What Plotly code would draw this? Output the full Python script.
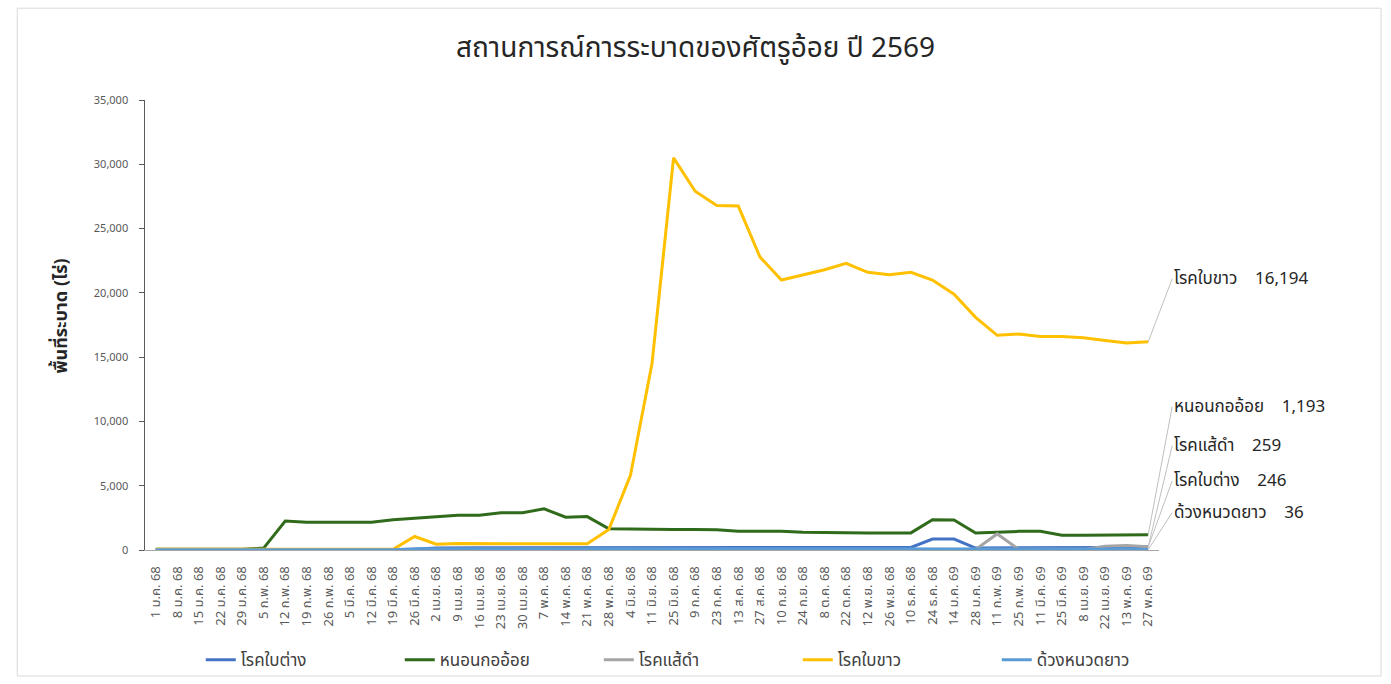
import plotly.graph_objects as go

dates = ["1 ม.ค. 68","8 ม.ค. 68","15 ม.ค. 68","22 ม.ค. 68","29 ม.ค. 68","5 ก.พ. 68","12 ก.พ. 68",
         "19 ก.พ. 68","26 ก.พ. 68","5 มี.ค. 68","12 มี.ค. 68","19 มี.ค. 68","26 มี.ค. 68","2 เม.ย. 68",
         "9 เม.ย. 68","16 เม.ย. 68","23 เม.ย. 68","30 เม.ย. 68","7 พ.ค. 68","14 พ.ค. 68","21 พ.ค. 68",
         "28 พ.ค. 68","4 มิ.ย. 68","11 มิ.ย. 68","25 มิ.ย. 68","9 ก.ค. 68","23 ก.ค. 68","13 ส.ค. 68",
         "27 ส.ค. 68","10 ก.ย. 68","24 ก.ย. 68","8 ต.ค. 68","22 ต.ค. 68","12 พ.ย. 68","26 พ.ย. 68",
         "10 ธ.ค. 68","24 ธ.ค. 68","14 ม.ค. 69","28 ม.ค. 69","11 ก.พ. 69","25 ก.พ. 69","11 มี.ค. 69",
         "25 มี.ค. 69","8 เม.ย. 69","22 เม.ย. 69","13 พ.ค. 69","27 พ.ค. 69"]

bai_tang = [30,30,30,30,30,30,30,30,30,30,30,30,60,150,180,180,180,180,180,180,180,
            180,180,180,200,200,200,200,200,200,200,200,200,200,200,200,850,850,150,150,150,150,
            150,150,200,220,246]
non_kor = [50,50,50,50,50,150,2250,2150,2150,2150,2150,2350,2450,2600,2700,2700,2900,2900,3200,2550,2600,
           1650,1620,1600,1600,1600,1580,1450,1450,1450,1380,1380,1380,1330,1320,1330,2350,2330,1320,1400,
           1450,1450,1150,1150,1150,1150,1193]
sae_dam = [30,30,30,30,30,30,30,30,30,30,30,30,30,30,30,30,30,30,30,30,30,
           30,30,30,30,30,30,30,30,30,30,30,30,30,30,30,30,30,50,1250,50,50,
           50,50,300,350,259]
bai_khao = [50,50,50,50,50,50,50,50,50,50,50,50,1050,450,500,500,500,500,500,500,480,
            1600,5800,14500,30500,27900,26800,26750,22800,21000,21400,21800,22300,21600,21400,21600,21000,19900,18100,16700,
            16800,16600,16600,16500,16300,16100,16194]
duang = [20,20,20,20,20,20,20,20,20,20,20,20,100,100,100,100,100,100,100,100,100,
         100,100,100,100,100,100,100,100,100,100,100,100,100,100,100,100,100,100,100,100,100,
         100,100,100,80,36]

series = [
    ("โรคใบต่าง", bai_tang, "#4472C4"),
    ("หนอนกออ้อย", non_kor, "#2F6B1B"),
    ("โรคแส้ดำ", sae_dam, "#A5A5A5"),
    ("โรคใบขาว", bai_khao, "#FFC000"),
    ("ด้วงหนวดยาว", duang, "#5B9BD5"),
]

FONT = "Tahoma, 'Noto Sans Thai', 'Noto Sans Thai UI', Loma, Garuda, 'DejaVu Sans', sans-serif"

fig = go.Figure()
for name, vals, col in series:
    fig.add_trace(go.Scatter(x=dates, y=vals, mode="lines", name=name,
                             line=dict(color=col, width=3)))

# right-side labels with leader lines
label_specs = [
    ("โรคใบขาว", bai_khao, -63),
    ("หนอนกออ้อย", non_kor, -128),
    ("โรคแส้ดำ", sae_dam, -101),
    ("โรคใบต่าง", bai_tang, -66),
    ("ด้วงหนวดยาว", duang, -37),
]
annotations = []
for name, vals, ay in label_specs:
    annotations.append(dict(
        x=dates[-1], y=vals[-1], xref="x", yref="y",
        text=f"{name}\u00a0\u00a0\u00a0\u00a0{vals[-1]:,}",
        showarrow=True, arrowhead=0, arrowwidth=1, arrowcolor="#BFBFBF",
        ax=24, ay=ay, xanchor="left", yanchor="middle",
        font=dict(size=17, color="#262626", family=FONT)))

annotations.append(dict(
    x=-0.0986, y=0.52, xref="paper", yref="paper", text="<b>พื้นที่ระบาด (ไร่)</b>",
    textangle=-90, showarrow=False, font=dict(size=18, color="#262626", family=FONT)))

fig.update_layout(
    width=1391, height=684,
    paper_bgcolor="white", plot_bgcolor="white",
    margin=dict(l=145, r=232, t=100, b=134, autoexpand=False),
    font=dict(family=FONT, color="#595959"),
    title=dict(text="สถานการณ์การระบาดของศัตรูอ้อย ปี 2569", x=0.5, xanchor="center",
               y=1 - 47 / 684, yanchor="middle",
               font=dict(size=28, color="#262626", family=FONT)),
    showlegend=True,
    legend=dict(orientation="h", x=0.055, xanchor="left", y=-0.245, yanchor="middle",
                entrywidth=154, entrywidthmode="pixels", bgcolor="rgba(0,0,0,0)",
                font=dict(size=17, color="#404040", family=FONT)),
    annotations=annotations,
    shapes=[dict(type="rect", xref="paper", yref="paper", x0=-0.126, x1=1.219, y0=-0.28, y1=1.204,
                 line=dict(color="#D9D9D9", width=1), fillcolor="rgba(0,0,0,0)", layer="below")],
)
fig.update_xaxes(type="category", range=[-0.5, len(dates) - 0.5], tickangle=-90, automargin=False,
                 tickfont=dict(size=13, color="#595959"), showline=True, linecolor="#A6A6A6",
                 showgrid=False, ticks="outside", ticklen=10, tickcolor="rgba(0,0,0,0)", zeroline=False)
fig.update_yaxes(range=[0, 35000], dtick=5000, tickformat=",", ticksuffix="\u00a0\u00a0\u00a0",
                 showgrid=False, automargin=False,
                 showline=True, linecolor="#595959", ticks="outside", ticklen=5, tickcolor="#595959",
                 tickfont=dict(size=11, color="#595959"), zeroline=False)

fig.write_html("out.html", config={"displayModeBar": False},
               post_script="document.body.style.margin='0';document.body.style.overflow='hidden';")
